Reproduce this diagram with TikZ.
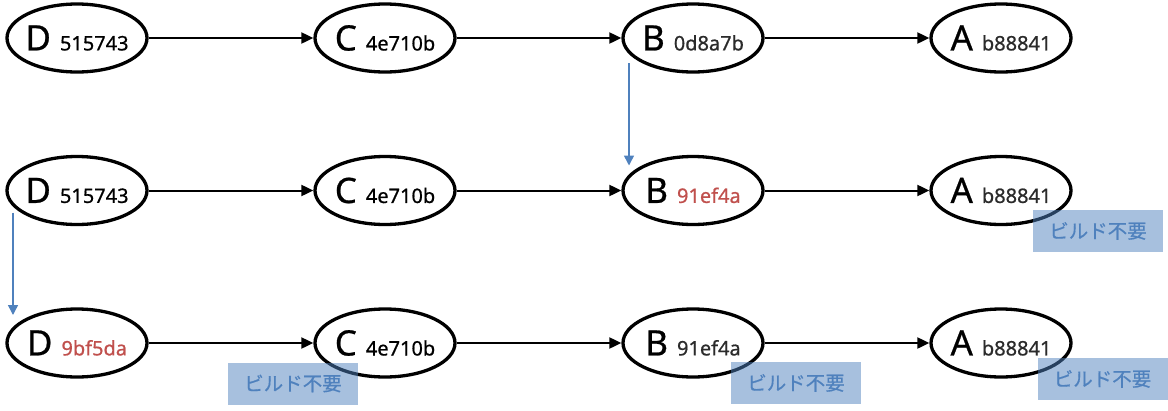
\documentclass[tikz,border=0pt]{standalone}
\usepackage{fontspec}
\setmainfont[FakeBold=0.7]{Noto Sans}
\newfontfamily\jpfont[FakeBold=0.6]{Noto Sans CJK JP}
\usetikzlibrary{shapes.geometric,arrows.meta}
\definecolor{hashred}{HTML}{C0504D}
\definecolor{hashgray}{HTML}{2B2B2B}
\definecolor{noteblue}{HTML}{4F81BD}
\newcommand{\commit}[3][black]{{\fontsize{35}{35}\selectfont #2}\hspace{9pt}{\fontsize{20}{20}\selectfont\color{#1}#3}}
\begin{document}
\begin{tikzpicture}[x=1pt,y=-1pt,
    commit/.style={ellipse,draw,line width=3.3pt,minimum width=140pt,minimum height=68pt,inner sep=-10pt},
    note/.style={fill=noteblue,fill opacity=0.5,text opacity=1,text=noteblue,minimum width=130pt,minimum height=42pt,inner sep=0pt,font=\jpfont\fontsize{19.5}{19.5}\selectfont},
    >={Triangle[length=12pt,width=11pt]}]
        \useasboundingbox (0,0) rectangle (1168,410);
        \def\x{308}
        \def\y{152.5}
        \node[commit] (A0_0) at (77+0*\x, 38+0*\y) {\commit{D}{515743}};
        \node[commit] (A0_1) at (77+1*\x, 38+0*\y) {\commit{C}{4e710b}};
        \node[commit] (A0_2) at (77+2*\x, 38+0*\y) {\commit[hashgray]{B}{0d8a7b}};
        \node[commit] (A0_3) at (77+3*\x, 38+0*\y) {\commit[hashgray]{A}{b88841}};
        \node[commit] (A1_0) at (77+0*\x, 38+1*\y) {\commit{D}{515743}};
        \node[commit] (A1_1) at (77+1*\x, 38+1*\y) {\commit{C}{4e710b}};
        \node[commit] (A1_2) at (77+2*\x, 38+1*\y) {\commit[hashred]{B}{91ef4a}};
        \node[commit] (A1_3) at (77+3*\x, 38+1*\y) {\commit[hashgray]{A}{b88841}};
        \node[commit] (A2_0) at (77+0*\x, 38+2*\y) {\commit[hashred]{D}{9bf5da}};
        \node[commit] (A2_1) at (77+1*\x, 38+2*\y) {\commit{C}{4e710b}};
        \node[commit] (A2_2) at (77+2*\x, 38+2*\y) {\commit[hashgray]{B}{91ef4a}};
        \node[commit] (A2_3) at (77+3*\x, 38+2*\y) {\commit[hashgray]{A}{b88841}};
        \path (A0_0) edge [->,line width=2pt] (A0_1);
        \path (A0_1) edge [->,line width=2pt] (A0_2);
        \path (A0_2) edge [->,line width=2pt] (A0_3);
        \path (A1_0) edge [->,line width=2pt] (A1_1);
        \path (A1_1) edge [->,line width=2pt] (A1_2);
        \path (A1_2) edge [->,line width=2pt] (A1_3);
        \path (A2_0) edge [->,line width=2pt] (A2_1);
        \path (A2_1) edge [->,line width=2pt] (A2_2);
        \path (A2_2) edge [->,line width=2pt] (A2_3);
        % rebuilt commits
        \draw [->,noteblue,line width=1.5pt,>={Triangle[length=10pt,width=10pt]}]
          ([xshift=-64pt,yshift=-25pt]A0_2.center) -- ([xshift=-64pt,yshift=25pt]A1_2.center);
        \draw [->,noteblue,line width=1.5pt,>={Triangle[length=10pt,width=10pt]}]
          ([xshift=-64pt,yshift=-22pt]A1_0.center) -- ([xshift=-64pt,yshift=28pt]A2_0.center);
        \node[note] (N1_3) at (1098,231) {ビルド不要};
        \node[note] (N2_1) at (293,383.5) {ビルド不要};
        \node[note] (N2_2) at (796,383) {ビルド不要};
        \node[note] (N2_3) at (1102.5,379) {ビルド不要};
      \end{tikzpicture}
\end{document}
